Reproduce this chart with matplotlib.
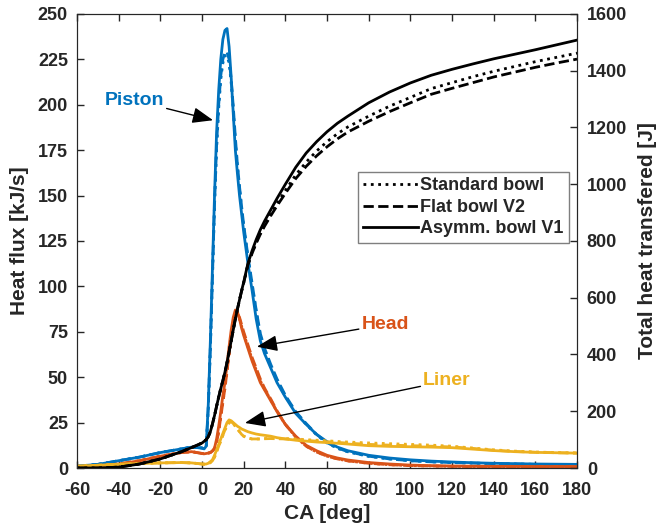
import matplotlib
matplotlib.use('Agg')
import matplotlib.pyplot as plt

plt.rcParams['font.family'] = ['Liberation Sans', 'DejaVu Sans']
plt.rcParams['font.weight'] = 'bold'
plt.rcParams['axes.unicode_minus'] = False

BLUE = '#0072BD'
ORANGE = '#D95319'
YELLOW = '#EDB120'
TXT = '#262626'

# crank angle grid [deg]
ca = [-60, -50, -40, -30, -20, -10, -5, 0, 1, 2, 3, 4, 5, 6, 7, 8, 9, 10, 11, 12, 13, 14, 15, 16, 17,
      18, 19, 20, 22, 24, 26, 28, 30, 33, 36, 40, 45, 50, 55, 60, 65, 70, 80, 90, 100, 110, 120,
      130, 140, 150, 160, 170, 180]

# piston heat flux [kJ/s]
piston_v1 = [1, 2, 4, 6, 8.5, 10.5, 11.5, 11, 10.5, 12, 35, 70, 110, 150, 185, 208, 225, 236, 241, 242, 232,
             215, 195, 175, 162, 150, 140, 130, 113, 98, 82, 70, 63, 55, 47, 39, 30, 24, 18.5, 14.5,
             11.5, 9.5, 7, 5.5, 4.5, 3.8, 3.3, 2.9, 2.6, 2.4, 2.2, 2.1, 2]
piston_v2 = [1, 2, 4, 6, 8.5, 10.5, 11.5, 11, 10.5, 11.5, 33, 66, 105, 145, 178, 200, 216, 225, 229, 229, 225,
             214, 199, 182, 167, 155, 144, 134, 117, 102, 87, 74, 66, 57, 49, 40, 31, 24.5, 18.5, 14,
             11, 9, 6.5, 5, 4, 3.4, 3, 2.7, 2.4, 2.2, 2, 1.9, 1.8]
piston_std = [1, 2, 4, 6, 8.5, 10.5, 11.5, 11, 10.5, 11.5, 33, 66, 105, 145, 176, 198, 214, 223, 227, 227, 223,
              212, 197, 180, 166, 154, 143, 133, 116, 101, 86, 73, 65, 56, 48, 39.5, 30.5, 24, 18.2, 13.8,
              10.8, 8.9, 6.4, 5, 4, 3.4, 3, 2.7, 2.4, 2.2, 2, 1.9, 1.8]

# head heat flux [kJ/s]
head_v1 = [0.5, 1.2, 2.2, 4, 6.5, 8.5, 9, 8, 7.8, 8, 8.2, 8.5, 9.5, 11, 16, 23, 31, 40, 47, 57, 67,
           76, 83, 87, 86, 82, 77, 73, 66, 59, 53, 47, 43, 37, 31, 24, 17.5, 12.5, 9.5, 7,
           5.5, 4.4, 3, 2.2, 1.6, 1.3, 1.1, 1, 0.9, 0.9, 0.8, 0.8, 0.8]
head_v2 = [0.5, 1.2, 2.2, 4, 6.5, 8.5, 9, 8, 7.8, 8, 8.2, 8.5, 9.3, 10.5, 14, 20, 28, 36, 44, 53, 63,
           72, 79, 84, 85, 83, 79, 75, 68, 61, 55, 49, 44, 38, 31.5, 24, 17, 12, 8.8, 6.5,
           5, 3.9, 2.6, 1.8, 1.3, 1.1, 0.9, 0.8, 0.8, 0.7, 0.7, 0.7, 0.7]
head_std = [0.5, 1.2, 2.2, 4, 6.5, 8.5, 9, 8, 7.8, 8, 8.2, 8.5, 9.3, 10.5, 14, 20, 28, 36, 44, 53, 62,
            71, 78, 83, 84, 82, 78, 74, 67, 60, 54, 48, 43.5, 37.5, 31, 24, 17, 12, 8.8, 6.5,
            5, 3.9, 2.6, 1.8, 1.3, 1.1, 0.9, 0.8, 0.8, 0.7, 0.7, 0.7, 0.7]

# liner heat flux [kJ/s]
liner_v1 = [1, 1.5, 2, 2.5, 2.8, 3, 2.8, 2.2, 2.1, 2.2, 2.6, 3.5, 4.5, 7, 10, 13, 16, 19, 22, 25, 26.5,
            26, 25, 24, 23, 22.3, 21.5, 21, 20, 19.3, 18.7, 18.3, 18, 17.5, 16.7, 16, 15.3, 14.8, 14.3, 14,
            13.6, 13.2, 12.3, 11.9, 11.7, 11.5, 11.2, 10.4, 9.6, 9, 8.6, 8.4, 8.2]
liner_v2 = [1, 1.5, 2, 2.5, 2.8, 3, 2.8, 2.2, 2.1, 2.1, 2.4, 3, 4, 6, 9, 12, 15, 18, 21, 23, 25,
            25.5, 24.5, 23, 21.5, 20, 18.5, 17.5, 16.5, 16, 16, 16, 16.1, 16.2, 16.1, 16, 15.6, 15.2, 14.8, 14.5,
            14.1, 13.7, 13, 12.6, 12.3, 12, 11.6, 10.8, 9.8, 9.1, 8.7, 8.4, 8.2]
liner_std = [1, 1.5, 2, 2.5, 2.8, 3, 2.8, 2.2, 2.1, 2.1, 2.4, 3, 4, 6, 9, 12, 15, 18, 21, 23, 25,
             25.5, 24.5, 23, 21.5, 20, 18.5, 17.5, 16.5, 16, 16, 16, 16.2, 16.3, 16.2, 16.2, 16, 15.6, 15.3, 15,
             14.6, 14.3, 13.8, 13.4, 13, 12.6, 12, 11, 10, 9.3, 8.8, 8.5, 8.3]

# total heat transferred [J]
q_v1 = [0, 0, 3, 14, 32, 57, 72, 88, 94, 100, 110, 128, 155, 185, 218, 250, 280, 308, 338, 372, 410,
        448, 487, 525, 560, 593, 625, 655, 720, 765, 805, 840, 870, 910, 950, 1000, 1060, 1110, 1150, 1185,
        1215, 1240, 1287, 1325, 1357, 1384, 1405, 1424, 1442, 1458, 1474, 1491, 1508]
q_v2 = [0, 0, 3, 14, 32, 57, 72, 88, 94, 100, 110, 128, 155, 185, 218, 250, 280, 308, 338, 372, 410,
        448, 487, 525, 560, 593, 623, 652, 715, 756, 792, 824, 852, 889, 924, 968, 1020, 1063, 1100, 1132,
        1160, 1184, 1222, 1256, 1287, 1317, 1338, 1358, 1378, 1395, 1412, 1427, 1441]
q_std = [0, 0, 3, 14, 32, 57, 72, 88, 94, 100, 110, 128, 155, 185, 218, 250, 280, 308, 338, 372, 410,
         448, 487, 525, 560, 593, 624, 653, 716, 758, 795, 828, 857, 895, 932, 978, 1033, 1078, 1117, 1150,
         1178, 1202, 1240, 1275, 1306, 1337, 1358, 1379, 1398, 1415, 1432, 1447, 1462]

x_ticks = list(range(-60, 181, 20))
hf_ticks = list(range(0, 251, 25))
q_ticks = list(range(0, 1601, 200))

fig = plt.figure(figsize=(6.6, 5.32), dpi=100)
ax = fig.add_axes([0.1167, 0.1203, 0.7576, 0.8534])
ax2 = ax.twinx()

LW = 2.0
for col, std, v2, v1 in [(BLUE, piston_std, piston_v2, piston_v1),
                         (ORANGE, head_std, head_v2, head_v1),
                         (YELLOW, liner_std, liner_v2, liner_v1)]:
    ax.plot(ca, std, color=col, lw=LW, ls=':')
    ax.plot(ca, v2, color=col, lw=LW, ls='--')
    ax.plot(ca, v1, color=col, lw=LW, ls='-')

ax2.plot(ca, q_std, color='k', lw=LW, ls=':', label='Standard bowl')
ax2.plot(ca, q_v2, color='k', lw=LW, ls='--', label='Flat bowl V2')
ax2.plot(ca, q_v1, color='k', lw=LW, ls='-', label='Asymm. bowl V1')

ax.set_xlim(-60, 180)
ax.set_ylim(0, 250)
ax2.set_ylim(0, 1600)
tick_font = dict(fontsize=13, fontweight='bold', color=TXT)
ax.set_xticks(x_ticks, [str(t) for t in x_ticks], **tick_font)
ax.set_yticks(hf_ticks, [str(t) for t in hf_ticks], **tick_font)
ax2.set_yticks(q_ticks, [str(t) for t in q_ticks], **tick_font)

for a in (ax, ax2):
    a.tick_params(direction='in', length=5, width=1, colors=TXT, top=True)
    for s in a.spines.values():
        s.set_color(TXT)
ax.tick_params(axis='x', pad=10)
ax.tick_params(axis='y', pad=6.5)
ax2.tick_params(axis='y', pad=7)

ax.set_xlabel('CA [deg]', fontsize=15, fontweight='bold', color=TXT, labelpad=4)
ax.set_ylabel('Heat flux [kJ/s]', fontsize=15, fontweight='bold', color=TXT, labelpad=6)
ax2.set_ylabel('Total heat transfered [J]', fontsize=15, fontweight='bold', color=TXT, labelpad=8)

arrow = dict(arrowstyle='-|>,head_length=0.9,head_width=0.35', color='k', lw=1.0,
             shrinkA=0, shrinkB=0)
ax.annotate('Piston', xy=(5.3, 191.5), xytext=(-32.6, 202.5), color=BLUE,
            fontsize=14, fontweight='bold', ha='center', va='center', arrowprops=arrow)
ax.annotate('Head', xy=(26.3, 66.8), xytext=(88, 79), color=ORANGE,
            fontsize=14, fontweight='bold', ha='center', va='center', arrowprops=arrow)
ax.annotate('Liner', xy=(20.6, 24.8), xytext=(117.6, 48), color=YELLOW,
            fontsize=14, fontweight='bold', ha='center', va='center', arrowprops=arrow)

leg = ax2.legend(loc='upper right', bbox_to_anchor=(0.984, 0.652), fontsize=13,
                 handlelength=3.0, handletextpad=0.15, borderpad=0.3, labelspacing=0.25,
                 fancybox=False, edgecolor='#7f7f7f', framealpha=1, borderaxespad=0)
for t in leg.get_texts():
    t.set_color(TXT)
    t.set_fontweight('bold')

fig.savefig('out.png', dpi=100)
